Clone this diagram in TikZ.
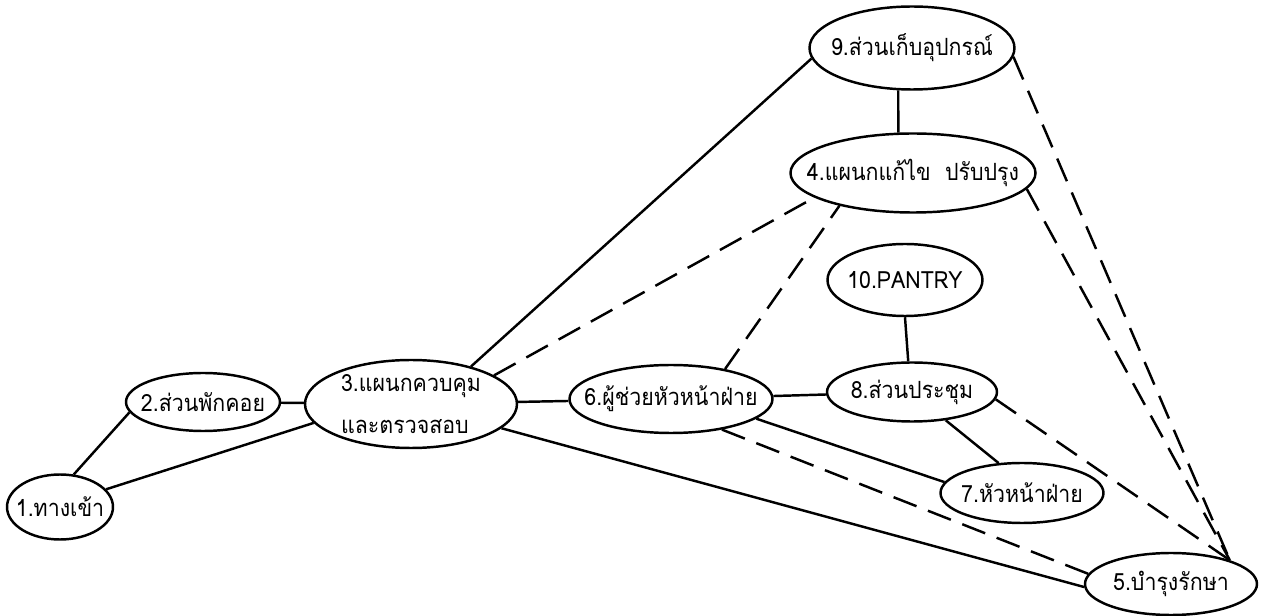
\documentclass[tikz,border=0pt]{standalone}
\usepackage{fontspec}
\setmainfont{Loma}[Script=Thai, FakeStretch=0.9]
\usepackage{tikz}
\usetikzlibrary{shapes.geometric}

\begin{document}
\begin{tikzpicture}[font=\fontsize{13.5}{24}\selectfont, line width=1.4pt,
  room/.style={draw, ellipse, inner xsep=-0.6cm, inner ysep=-0.3cm, align=left},
  link/.style={line width=1.4pt},
  loose/.style={line width=1.4pt, dash pattern=on 14pt off 7pt}]
  \useasboundingbox (0,0) rectangle (25.3,12.32);
  \node[room, minimum width=2.12cm, minimum height=1.30cm] (n1) at (1.20,2.18) {1.ทางเข้า};
  \node[room, minimum width=3.08cm, minimum height=1.16cm] (n2) at (4.06,4.28) {2.ส่วนพักคอย};
  \node[room, minimum width=4.24cm, minimum height=1.76cm] (n3) at (8.22,4.24) {3.แผนกควบคุม\\และตรวจสอบ};
  \node[room, minimum width=4.90cm, minimum height=1.58cm] (n4) at (18.26,8.86) {4.แผนกแก้ไข\ \ ปรับปรุง};
  \node[room, minimum width=3.44cm, minimum height=1.24cm] (n5) at (23.42,0.64) {5.บำรุงรักษา};
  \node[room, minimum width=4.06cm, minimum height=1.36cm] (n6) at (13.42,4.34) {6.ผู้ช่วยหัวหน้าฝ่าย};
  \node[room, minimum width=3.26cm, minimum height=1.20cm] (n7) at (20.44,2.46) {7.หัวหน้าฝ่าย};
  \node[room, minimum width=3.40cm, minimum height=1.18cm] (n8) at (18.24,4.48) {8.ส่วนประชุม};
  \node[room, minimum width=4.10cm, minimum height=1.66cm] (n9) at (18.24,11.36) {9.ส่วนเก็บอุปกรณ์};
  \node[room, minimum width=3.10cm, minimum height=1.44cm] (n10) at (18.10,6.72) {10.PANTRY};
  % solid links
  \draw[link] (n1.67) -- (n2.188);
  \draw[link] (n1.21) -- (n3.191);
  \draw[link] (n2) -- (n3);
  \draw[link] (n3.32) -- (n9.186);
  \draw[link] (n3) -- (n6);
  \draw[link] (n3.345) -- (n5.182);
  \draw[link] (n9.252) -- (n4.110);
  \draw[link] (n10.south) -- (n8.97);
  \draw[link] (n6) -- (n8);
  \draw[link] (n6.347) -- (n7.172);
  \draw[link] (n8.320) -- (n7.128);
  % dashed links
  \draw[loose] (n3.19) -- (n4.194);
  \draw[loose] (n6.29) -- (n4.204);
  \draw[loose] (n6.329) -- (n5.173);
  \foreach \a/\b in {n8/355,n4/352,n9/355}
    \draw[loose] (\a.\b) -- (n5.22);
\end{tikzpicture}
\end{document}
